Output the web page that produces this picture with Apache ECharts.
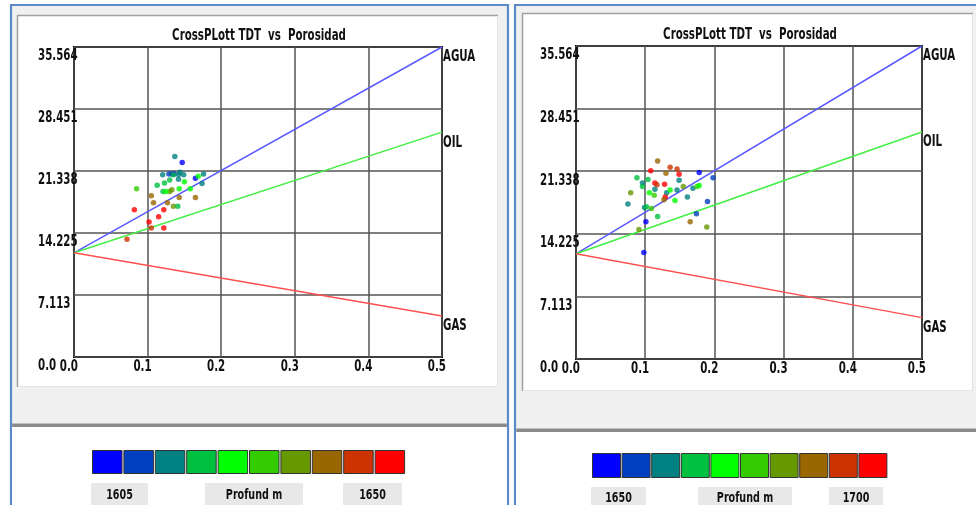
<!DOCTYPE html>
<html><head><meta charset="utf-8">
<script src="https://cdn.jsdelivr.net/npm/echarts@6/dist/echarts.min.js"></script>
<style>html,body{margin:0;padding:0;background:#fff}#c{width:976px;height:505px}</style>
</head><body><div id="c"></div><script>
// ---- data ----
const chartTitle = 'CrossPLott TDT  vs  Porosidad';
const porosityTicks = ['0.0','0.1','0.2','0.3','0.4','0.5'];
const tdtTicks = ['0.0','7.113','14.225','21.338','28.451','35.564'];
const depthColors = ['#0000ff','#0040c0','#008080','#00c040','#00ff00','#33cc00','#669900','#996600','#cc3300','#ff0000'];
const depthLabel = 'Profund m';
const lineNames = ['AGUA','OIL','GAS'];
const lineColors = ['#5a5aff','#44ee44','#ff5050'];
const linePorosity = [0, 0.5];
const aguaTdt = [11.95, 35.564];
const oilTdt = [11.95, 25.8];
const gasTdt = [11.95, 4.7];

const leftDepthRange = [1605, 1650];
const leftPorosity = [0.137,0.147,0.1205,0.129,0.133,0.136,0.142,0.144,0.149,0.142,0.150,0.165,0.169,0.176,0.174,0.158,0.123,0.130,0.113,0.121,0.085,0.130,0.105,0.108,0.143,0.143,0.127,0.165,0.135,0.141,0.082,0.122,0.115,0.102,0.105,0.122,0.072,0.135,0.125,0.133];
const leftTdt = [23.0,22.3,20.9,21.0,21.0,21.0,20.95,21.2,20.9,20.4,20.1,20.5,20.75,21.0,19.9,19.3,19.95,20.3,19.7,19.0,19.3,19.0,18.5,17.7,19.3,18.3,17.7,18.3,17.3,17.3,16.9,16.9,16.1,15.5,14.8,14.8,13.5,20.9,19.0,19.2];
const leftDepth = [1616,1607,1615.5,1611,1612,1606.5,1616.5,1617,1615,1616,1625,1607.5,1624.5,1616.2,1617.5,1626,1620,1621,1619.5,1621.5,1629,1634,1638,1639,1625.5,1637.5,1639.5,1638.5,1634.5,1620.5,1647,1648,1646.5,1647.5,1643,1648.5,1642.5,1621,1624,1633.5];

const rightDepthRange = [1650, 1700];
const rightPorosity = [0.118,0.108,0.136,0.130,0.146,0.149,0.178,0.198,0.149,0.088,0.104,0.096,0.096,0.114,0.117,0.128,0.114,0.106,0.113,0.131,0.136,0.146,0.155,0.169,0.175,0.178,0.129,0.127,0.143,0.161,0.190,0.079,0.075,0.099,0.102,0.109,0.101,0.118,0.174,0.165,0.189,0.091,0.098];
const rightTdt = [22.5,21.4,21.8,21.1,21.6,21.0,21.2,20.6,20.3,20.6,20.4,20.0,19.6,20.0,19.8,19.85,19.3,18.9,18.6,18.9,19.2,19.2,19.6,19.4,19.6,19.7,18.4,18.1,18.0,18.4,17.9,18.9,17.6,17.2,17.3,17.1,15.6,16.2,16.5,15.6,15.0,14.7,12.1];
const rightDepth = [1687,1697,1692,1688,1693,1696,1652,1657,1662,1667,1668,1661,1666,1697.5,1691,1698,1663,1672,1677,1662.5,1671,1661.5,1682,1663.5,1678,1673,1696.5,1686,1672.5,1662,1656,1681,1663,1661,1667.5,1676,1653,1666.5,1658,1688,1683,1681.5,1651];

// ---- layout ----
const FONT = '"DejaVu Sans Condensed","Liberation Sans Narrow","Arial Narrow",sans-serif';
const LBL_FONT = 'bold 15px ' + FONT;
const NARROW = 0.76;
const BLUE = '#5a8ac8';
const panels = [
  {grid:{left:74, top:47, width:368, height:310}, titleX:259, titleY:36,
   por:leftPorosity, tdt:leftTdt, depth:leftDepth, range:leftDepthRange,
   frame:{x:11, right:508, innerX:17, innerY:15, innerR:498, innerB:387, sepY:425},
   sw:{x:92, pitch:31.4, w:29.5, y:450, h:23},
   lab:{y:483, h:22, boxes:[[91,57],[205,98],[343,59]]}},
  {grid:{left:576, top:46, width:346, height:313}, titleX:750, titleY:35,
   por:rightPorosity, tdt:rightTdt, depth:rightDepth, range:rightDepthRange,
   frame:{x:515, right:990, innerX:522, innerY:13, innerR:973, innerB:391, sepY:430},
   sw:{x:592, pitch:29.6, w:28, y:453, h:24},
   lab:{y:487, h:20, boxes:[[591,55],[698,94],[829,54]]}}
];

const option = {animation:false, backgroundColor:'#ffffff',
  grid:[], xAxis:[], yAxis:[], series:[], visualMap:[], graphic:[]};
const lineSeries = [];

panels.forEach((p, pi) => {
  option.grid.push(Object.assign({show:true, borderColor:'#000', borderWidth:2, backgroundColor:'transparent'}, p.grid));
  option.xAxis.push({type:'value', gridIndex:pi, min:0, max:0.5, interval:0.1,
    axisLine:{show:false}, axisTick:{show:false}, axisLabel:{show:false},
    splitLine:{show:true, lineStyle:{color:'#555', width:1.5}}});
  option.yAxis.push({type:'value', gridIndex:pi, min:0, max:35.564, interval:7.1128,
    axisLine:{show:false}, axisTick:{show:false}, axisLabel:{show:false},
    splitLine:{show:true, lineStyle:{color:'#555', width:1.5}}});
  [aguaTdt, oilTdt, gasTdt].forEach((arr, li) => {
    const data = linePorosity.map((x,k)=>[x, arr[k]]);
    lineSeries.push({pi, name:lineNames[li], end:data[data.length-1]});
    option.series.push({type:'line', name:lineNames[li], xAxisIndex:pi, yAxisIndex:pi,
      data, symbol:'none', silent:true,
      lineStyle:{color:lineColors[li], width:1.5}, itemStyle:{color:lineColors[li]}, z:3});
  });
  const sIdx = option.series.length;
  option.series.push({type:'scatter', xAxisIndex:pi, yAxisIndex:pi, symbol:'circle', symbolSize:5.5,
    data:p.por.map((x,k)=>[x, p.tdt[k], p.depth[k]]), z:4});
  const step = (p.range[1]-p.range[0]) / depthColors.length;
  option.visualMap.push({type:'piecewise', show:false, seriesIndex:sIdx, dimension:2,
    pieces:depthColors.map((c,k)=>({gte:p.range[0]+k*step, lt:p.range[0]+(k+1)*step + (k===depthColors.length-1?1:0), color:c}))});

  // frames
  const f = p.frame;
  const g = option.graphic;
  g.push({type:'rect', z:-20, shape:{x:f.x, y:5, width:f.right-f.x, height:520}, style:{fill:'#f0f0f0', stroke:BLUE, lineWidth:2.2}});
  g.push({type:'rect', z:-19, shape:{x:f.innerX, y:f.innerY, width:f.innerR-f.innerX, height:f.innerB-f.innerY}, style:{fill:'#ffffff'}});
  g.push({type:'polyline', z:-18, shape:{points:[[f.innerX+0.5,f.innerB],[f.innerX+0.5,f.innerY+0.5],[f.innerR,f.innerY+0.5]]}, style:{stroke:'#a0a0a0', lineWidth:1.5, fill:null}});
  g.push({type:'polyline', z:-18, shape:{points:[[f.innerX+1,f.innerB-0.5],[f.innerR-0.5,f.innerB-0.5],[f.innerR-0.5,f.innerY+1]]}, style:{stroke:'#e4e4e4', lineWidth:1, fill:null}});
  g.push({type:'rect', z:-18, shape:{x:f.x+1.2, y:f.sepY+2, width:f.right-f.x-2.4, height:90}, style:{fill:'#ffffff'}});
  g.push({type:'rect', z:-17, shape:{x:f.x+1.2, y:f.sepY-1, width:f.right-f.x-2.4, height:3}, style:{fill:'#8a8a8a'}});
  g.push({type:'rect', z:-17, shape:{x:f.x+1.2, y:f.sepY-2, width:f.right-f.x-2.4, height:1}, style:{fill:'#c0c0c0'}});
  depthColors.forEach((c,k) => {
    g.push({type:'rect', z:-10, shape:{x:p.sw.x + k*p.sw.pitch + 0.5, y:p.sw.y+0.5, width:p.sw.w, height:p.sw.h},
      style:{fill:c, stroke:'#333', lineWidth:1}});
  });
  const texts = [String(p.range[0]), depthLabel, String(p.range[1])];
  p.lab.boxes.forEach((b,k) => {
    g.push({type:'rect', z:-10, shape:{x:b[0], y:p.lab.y, width:b[1], height:p.lab.h+10}, style:{fill:'#e8e8e8'}});
    g.push({type:'text', z:-9, x:b[0]+b[1]/2, y:p.lab.y+p.lab.h/2+1, scaleX:NARROW,
      style:{text:texts[k], x:0, y:0, align:'center', verticalAlign:'middle', font:'bold 14px ' + FONT, fill:'#111'}});
  });
});

const chart = echarts.init(document.getElementById('c'), null, {renderer:'canvas'});
chart.setOption(option);

// narrow text labels placed through the axes' own scales
function narrowText(text, x, y, align, vAlign) {
  return {type:'text', z:10, x, y, scaleX:NARROW,
    style:{text, x:0, y:0, align, verticalAlign:vAlign, font:LBL_FONT, fill:'#111'}};
}
const labels = [];
panels.forEach((p, pi) => {
  labels.push(narrowText(chartTitle, p.titleX, p.titleY, 'center', 'middle'));
  const bottom = p.grid.top + p.grid.height;
  porosityTicks.forEach((t, i) => {
    const px = chart.convertToPixel({xAxisIndex:pi}, i*0.1);
    labels.push(narrowText(t, px + 4, bottom + 3, 'right', 'top'));
  });
  tdtTicks.forEach((t, i) => {
    const py = chart.convertToPixel({yAxisIndex:pi}, i*7.1128);
    labels.push(narrowText(t, p.grid.left - 36, py + 2, 'left', 'top'));
  });
});
lineSeries.forEach(ls => {
  const pt = chart.convertToPixel({xAxisIndex:ls.pi, yAxisIndex:ls.pi}, ls.end);
  labels.push(narrowText(ls.name, pt[0] + 1, pt[1] + 3, 'left', 'top'));
});
chart.setOption({graphic: option.graphic.concat(labels)});
</script></body></html>
